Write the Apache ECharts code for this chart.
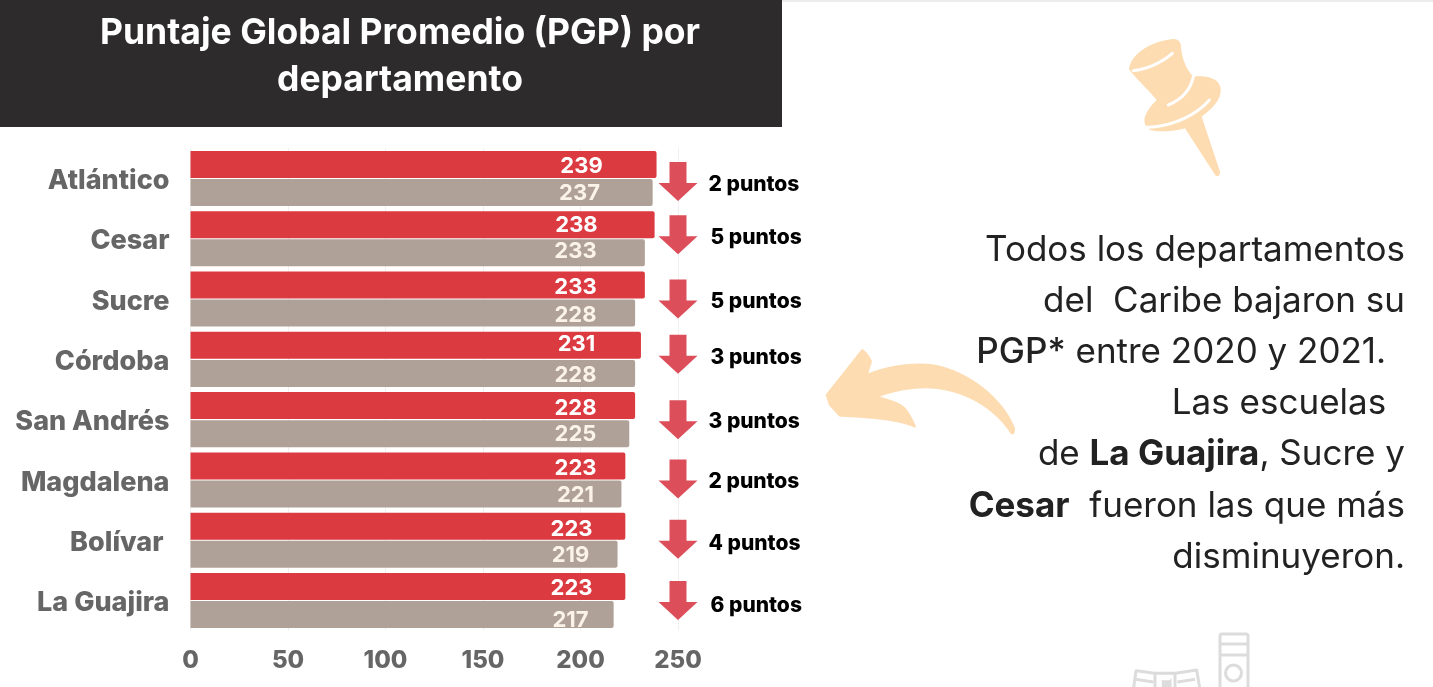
<!DOCTYPE html>
<html><head><meta charset="utf-8">
<style>html,body{margin:0;padding:0;background:#fff;overflow:hidden}#c{width:1433px;height:687px}</style>
<script src="https://cdn.jsdelivr.net/npm/echarts@6/dist/echarts.min.js"></script>
</head><body><div id="c"></div>
<script>
const categories = ['Atlántico','Cesar','Sucre','Córdoba','San Andrés','Magdalena','Bolívar ','La Guajira'];
const values2020 = [239,238,233,231,228,223,223,223];
const values2021 = [237,233,228,228,225,221,219,217];
const dropLabels = ['2 puntos','5 puntos','5 puntos','3 puntos','3 puntos','2 puntos','4 puntos','6 puntos'];
const xTicks = [0,50,100,150,200,250];
const titleLines = ['Puntaje Global Promedio (PGP) por','departamento'];
const noteLines = ['Todos los departamentos','del  Caribe bajaron su','{m|PGP*} entre 2020 y 2021. ','Las escuelas ','de {b|La Guajira}, Sucre y','{b|Cesar}  fueron las que más','disminuyeron.'];

// layout nudges (pixels), kept apart from the data
const arrowDy = [3,-4,0,-5,0,-1,-1,0];
const dropLabelDy = [6,-1,3,-2,2,2,3,5];
const dropLabelDx = [0,2,2,2,0,0,0,2];
const redLabelX = [391,386,385,386,385,385,381,381];
const redLabelDy = [2,1,2,-1,3,2,3,2];
const grayLabelX = [389,385,385,385,385,385,380,380];
const grayLabelDy = [1,-1,2,2,1,1,1,6];

const FONT = 'Inter';
const PEACH = '#fddcb2';
// sample a decorative SVG outline (written in 3x crop coordinates) into page points
function outline(d, ox, oy, step){
  const p = document.createElementNS('http://www.w3.org/2000/svg','path');
  p.setAttribute('d', d);
  const n = Math.ceil(p.getTotalLength()/(step||2)), pts = [];
  for(let i=0;i<=n;i++){const q = p.getPointAtLength(p.getTotalLength()*i/n); pts.push([ox+q.x/3, oy+q.y/3]);}
  return pts;
}
const pin = outline('M237 148 C240 110 290 65 370 57 Q392 58 393 80 C395 115 410 150 430 170 C470 165 512 175 512 210 C512 245 480 270 455 290 L510 455 Q510 472 497 467 L405 325 C370 335 330 335 310 332 C285 330 280 305 285 290 C292 270 305 255 320 240 C300 215 262 180 237 148 Z',1050,20);
const pinLines = ['M250 152 C290 148 335 128 367 100','M355 255 C390 240 420 215 430 170','M285 322 C350 322 430 295 478 240'].map(d=>outline(d,1050,20));
const curved = outline('M157 60 Q175 75 183 95 L170 135 C230 110 300 100 360 105 C450 115 570 190 612 295 Q612 312 605 310 C560 240 470 175 350 172 C290 172 240 185 200 200 C240 212 270 220 285 237 Q300 255 315 290 C270 270 200 262 90 257 L60 225 L50 195 Z',810,330);
const iconStroke = {stroke:'#dcdcdc',lineWidth:3,fill:null};
const bookLines = ['M100 240 L108 182 L165 190 L225 190 L290 180 L300 240','M165 190 L165 240','M225 190 L225 240','M108 208 L160 216','M232 216 L285 208','M190 215 L190 240 M210 215 L210 240 M190 215 L210 215'].map(d=>outline(d,1100,610));

const graphics = [
  {type:'rect',shape:{x:782,y:0,width:651,height:2},style:{fill:'#ececec'},z:0},
  {type:'rect',shape:{x:0,y:0,width:782,height:127},style:{fill:'#2d2b2b'},z:1},
  ...titleLines.map((t,i)=>({type:'text',x:400,y:33+i*47,z:2,style:{text:t,fill:'#fff',font:'700 35.5px '+FONT,textAlign:'center',textVerticalAlign:'middle'}})),
  {type:'polygon',shape:{points:pin},style:{fill:PEACH},z:1},
  ...pinLines.map(p=>({type:'polyline',shape:{points:p},style:{stroke:'#fff',lineWidth:3,fill:null,lineCap:'round'},z:2})),
  {type:'polygon',shape:{points:curved},style:{fill:PEACH,stroke:PEACH,lineWidth:2,lineJoin:'round'},z:1},
  ...noteLines.map((t,i)=>{
    const rightEdge = (i===2||i===3) ? 1396 : 1405;
    return {type:'text',x:rightEdge,y:250+i*51.2,z:2,style:{text:t,fill:'#222',font:'400 35px '+FONT,textAlign:'right',textVerticalAlign:'middle',
      rich:{b:{font:'700 35px '+FONT,fill:'#222'},m:{font:'500 35px '+FONT,fill:'#222'}}}};
  }),
  {type:'rect',shape:{x:1220,y:634,width:28,height:70,r:2},style:iconStroke,z:1},
  {type:'line',shape:{x1:1220,y1:644,x2:1248,y2:644},style:iconStroke,z:1},
  {type:'line',shape:{x1:1220,y1:655,x2:1248,y2:655},style:iconStroke,z:1},
  {type:'circle',shape:{cx:1233.5,cy:673,r:8},style:iconStroke,z:1},
  ...bookLines.map(p=>({type:'polyline',shape:{points:p},style:iconStroke,z:1}))
];

const barData = (vals,xs,dys,txt)=>vals.map((v,i)=>({value:v,label:{show:true,position:[xs[i],'50%'],offset:[0,dys[i]],align:'center',verticalAlign:'middle',color:txt,fontFamily:FONT,fontWeight:700,fontSize:22,formatter:String(v)}}));

const arrowPath = 'path://M11,0 H28 V21 H39 L19.5,39 L0,21 H11 Z';
const option = {
  animation:false,
  backgroundColor:'#fff',
  graphic:{elements:graphics},
  grid:{left:190.5,width:487.5,top:148.3,height:482.4},
  xAxis:{type:'value',min:0,max:250,interval:50,axisLine:{show:false},axisTick:{show:false},
    splitLine:{show:true,lineStyle:{color:'#f0f0f0',width:1}},
    axisLabel:{color:'#666',fontFamily:FONT,fontWeight:800,fontSize:24,margin:18,formatter:v=>xTicks.includes(v)?String(v):''}},
  yAxis:{type:'category',inverse:true,data:categories,axisLine:{show:false},axisTick:{show:false},
    axisLabel:{margin:21,formatter:v=>'{a|'+v+'}',rich:{a:{color:'#666',fontFamily:FONT,fontWeight:800,fontSize:27,padding:[5,0,0,0]}}}},
  series:[
    {type:'bar',name:'2020',data:barData(values2020,redLabelX,redLabelDy,'#fff'),barWidth:27,barGap:'4%',itemStyle:{color:'#dc3a41',borderRadius:[0,2,2,0]},z:3},
    {type:'bar',name:'2021',data:barData(values2021,grayLabelX,grayLabelDy,'#fbf3e8'),barWidth:27,itemStyle:{color:'#b0a198',borderRadius:[0,2,2,0]},z:3},
    {type:'scatter',clip:false,symbol:arrowPath,symbolSize:[39,39],z:4,
      itemStyle:{color:'#dc4f5a',opacity:1},
      data:categories.map((c,i)=>({value:[250,c],symbolOffset:[0,arrowDy[i]],
        label:{show:true,position:'right',distance:11,offset:[dropLabelDx[i],dropLabelDy[i]-arrowDy[i]],color:'#000',fontFamily:FONT,fontWeight:800,fontSize:21,formatter:dropLabels[i]}}))}
  ]
};
echarts.init(document.getElementById('c'),null,{renderer:'canvas'}).setOption(option);
</script></body></html>
